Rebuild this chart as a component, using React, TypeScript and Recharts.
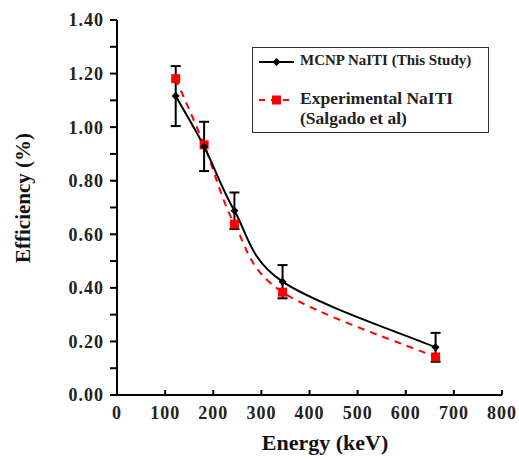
import React from "react";
import { ComposedChart, Line, XAxis, YAxis, ErrorBar } from "recharts";

const energies = [122, 181, 244, 344, 662];
const mcnpEfficiency = [1.116, 0.928, 0.688, 0.423, 0.178];
const mcnpError = [0.112, 0.092, 0.068, 0.062, 0.054];
const experimentalEfficiency = [1.181, 0.934, 0.638, 0.384, 0.142];

const xTicks = [0, 100, 200, 300, 400, 500, 600, 700, 800];
const yTicks = [0, 0.1, 0.2, 0.3, 0.4, 0.5, 0.6, 0.7, 0.8, 0.9, 1.0, 1.1, 1.2, 1.3, 1.4];

const data = energies.map((e, i) => ({
  energy: e,
  mcnp: mcnpEfficiency[i],
  mcnpErr: mcnpError[i],
  experimental: experimentalEfficiency[i],
}));

const FONT = "'Liberation Serif', 'Times New Roman', serif";

// spreadsheet-style smoothed line (Catmull-Rom through every point)
const smoothCurve = (context: any) => {
  let pts: number[][] = [];
  return {
    areaStart() {},
    areaEnd() {},
    lineStart() {
      pts = [];
    },
    point(x: number, y: number) {
      pts.push([+x, +y]);
    },
    lineEnd() {
      if (!pts.length) return;
      context.moveTo(pts[0][0], pts[0][1]);
      for (let i = 0; i < pts.length - 1; i++) {
        const p0 = pts[i - 1] || pts[i];
        const p1 = pts[i];
        const p2 = pts[i + 1];
        const p3 = pts[i + 2] || pts[i + 1];
        context.bezierCurveTo(
          p1[0] + (p2[0] - p0[0]) / 6,
          p1[1] + (p2[1] - p0[1]) / 6,
          p2[0] - (p3[0] - p1[0]) / 6,
          p2[1] - (p3[1] - p1[1]) / 6,
          p2[0],
          p2[1]
        );
      }
    },
  };
};

const Diamond = (props: any) => {
  const { cx, cy } = props;
  if (cx == null || cy == null) return null;
  const r = 4;
  return (
    <path
      d={`M${cx},${cy - r}L${cx + r},${cy}L${cx},${cy + r}L${cx - r},${cy}Z`}
      fill="#000"
    />
  );
};

const Square = (props: any) => {
  const { cx, cy } = props;
  if (cx == null || cy == null) return null;
  const s = 9;
  return <rect x={cx - s / 2} y={cy - s / 2} width={s} height={s} fill="#ff0000" />;
};

const XTick = (props: any) => {
  const { x, y, payload } = props;
  const axisY = y - 10;
  return (
    <g>
      <line x1={x} y1={axisY} x2={x} y2={axisY - 5} stroke="#000" strokeWidth={2} />
      <text
        x={x}
        y={y}
        dy="0.75em"
        textAnchor="middle"
        fontFamily={FONT}
        fontWeight="bold"
        fontSize={18}
        fill="#222"
        letterSpacing={1}
      >
        {payload.value}
      </text>
    </g>
  );
};

const yFormat = (v: number) => (Math.round(v * 10) % 2 === 0 ? v.toFixed(2) : "");

const LegendBox = () => (
  <div
    style={{
      position: "absolute",
      left: 252,
      top: 47,
      width: 235,
      height: 84,
      border: "1.5px solid #333",
      background: "#fff",
      fontFamily: FONT,
      fontWeight: "bold",
      color: "#222",
    }}
  >
    <svg width={48} height={84} style={{ position: "absolute", left: 0, top: 0 }}>
      <line x1={6} y1={14} x2={41} y2={14} stroke="#000" strokeWidth={2} />
      <path d="M23.5,10L27.5,14L23.5,18L19.5,14Z" fill="#000" />
      <line x1={6} y1={52} x2={41} y2={52} stroke="#ff0000" strokeWidth={2} strokeDasharray="6 6" />
      <rect x={19} y={47.5} width={9} height={9} fill="#ff0000" />
    </svg>
    <div style={{ position: "absolute", left: 47, top: 4, fontSize: 15, whiteSpace: "nowrap" }}>
      MCNP NaITI (This Study)
    </div>
    <div
      style={{
        position: "absolute",
        left: 47,
        top: 40,
        fontSize: 17.5,
        lineHeight: "20px",
        whiteSpace: "nowrap",
      }}
    >
      Experimental NaITI
      <br />
      (Salgado et al)
    </div>
  </div>
);

export default function App() {
  return (
    <div style={{ position: "absolute", left: 0, top: 0, width: 519, height: 459, background: "#fff" }}>
      <ComposedChart
        width={519}
        height={459}
        data={data}
        margin={{ top: 20, right: 17, left: 0, bottom: 0 }}
      >
        <XAxis
          dataKey="energy"
          type="number"
          domain={[0, 800]}
          ticks={xTicks}
          interval={0}
          height={64}
          tickSize={0}
          tickMargin={10}
          tickLine={false}
          axisLine={{ stroke: "#000", strokeWidth: 2 }}
          tick={<XTick />}
          label={() => (
            <text
              x={325}
              y={450}
              textAnchor="middle"
              fontFamily={FONT}
              fontWeight="bold"
              fontSize={22}
              fill="#111"
            >
              Energy (keV)
            </text>
          )}
        />
        <YAxis
          type="number"
          domain={[0, 1.4]}
          ticks={yTicks}
          interval={0}
          width={117}
          tickSize={7}
          tickMargin={6}
          tickFormatter={yFormat}
          tickLine={{ stroke: "#000", strokeWidth: 2 }}
          axisLine={{ stroke: "#000", strokeWidth: 2 }}
          tick={{ fontFamily: FONT, fontWeight: "bold", fontSize: 18, fill: "#222", letterSpacing: 1 }}
          label={() => (
            <text
              x={30}
              y={198}
              transform="rotate(-90 30 198)"
              textAnchor="middle"
              fontFamily={FONT}
              fontWeight="bold"
              fontSize={21}
              fill="#111"
            >
              Efficiency (%)
            </text>
          )}
        />
        <Line
          dataKey="experimental"
          type={smoothCurve as any}
          stroke="#ff0000"
          strokeWidth={2}
          strokeDasharray="7 6"
          dot={<Square />}
          activeDot={false}
          isAnimationActive={false}
        />
        <Line
          dataKey="mcnp"
          type={smoothCurve as any}
          stroke="#000"
          strokeWidth={2}
          dot={<Diamond />}
          activeDot={false}
          isAnimationActive={false}
        >
          <ErrorBar dataKey="mcnpErr" direction="y" width={5} stroke="#000" strokeWidth={2} />
        </Line>
      </ComposedChart>
      <LegendBox />
    </div>
  );
}
